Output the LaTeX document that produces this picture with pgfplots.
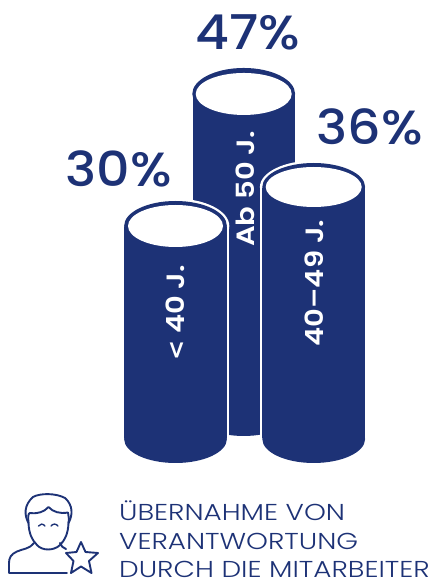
\documentclass[border=0pt]{standalone}
\usepackage{pgfplots}
\pgfplotsset{compat=1.18}
\usepackage{fontspec}
\setmainfont{Poppins}
\newfontfamily\pctfont{Poppins}[UprightFont=* Medium,FakeStretch=1.09]
\newfontfamily\capfont{Poppins}[UprightFont=* Light,FakeStretch=1.21]
\newfontfamily\tagfont{Poppins}[UprightFont=* SemiBold,FakeStretch=1.16]
\newfontfamily\symfont{DejaVu Sans Bold}
\definecolor{navy}{HTML}{1D3276}
% Ellipses are filled unit circles, stretched by the mark options
\pgfdeclareplotmark{capdisc}{\pgfpathcircle{\pgfpointorigin}{1pt}\pgfusepathqfill}
\pgfplotsset{cyl/.style 2 args={at={(0,0)},anchor=south west,scale only axis,width=433pt,height=579pt,
      hide axis,clip=false,xmin=0,xmax=433,ymin=#1,ymax=#2}}
% #1 x centre, #2 value, #3 ymin, #4 ymax, #5 halo width, #6 #7 inner radii, #8 top outer ry, #9 base ry
\newcommand{\cylinder}[9]{%
  \pgfmathsetlengthmacro{\barw}{102.8pt+#5pt}%
  % the white halo goes in an axis of its own, so that the body covers its lower half
  \begin{axis}[cyl={#3}{#4}]
    \addplot[only marks,mark=capdisc,mark options={xscale=51.4+#5,yscale=#8+#5,fill=white}] coordinates {(#1,#2)};
  \end{axis}
  \begin{axis}[cyl={#3}{#4}]
    \addplot[ybar,bar width=\barw,bar shift=0pt,fill=navy,draw=white,line width=#5pt] coordinates {(#1,#2)};
    \addplot[only marks,mark=capdisc,mark options={xscale=51.4,yscale=#9,fill=navy}] coordinates {(#1,0)};
    \addplot[only marks,mark=capdisc,mark options={xscale=51.4,yscale=#8,fill=navy}] coordinates {(#1,#2)};
    \addplot[only marks,mark=capdisc,mark options={xscale=#6,yscale=#7,fill=white}] coordinates {(#1,#2)};
  \end{axis}}
\begin{document}
\begin{tikzpicture}
  \path[use as bounding box] (0,0) rectangle (433pt,579pt);
  \cylinder{243.7}{47}{-24.908}{60.934}{0}{48}{21}{26}{25}
  \cylinder{175.5}{30}{-19.718}{61.831}{2.4}{47.5}{21}{25}{24}
  \cylinder{313.7}{36}{-20}{62.714}{2.4}{48}{20}{24}{24}
  \begin{scope}[x=1pt,y=-1pt,yshift=579pt,navy]
    % value labels
    \node[anchor=base,font=\pctfont\fontsize{48}{48}\selectfont] at (247.5,50) {47\%};
    \node[anchor=base,font=\pctfont\fontsize{48}{48}\selectfont] at (369.5,145) {36\%};
    \node[anchor=base,font=\pctfont\fontsize{48}{48}\selectfont] at (119,187) {30\%};
    % group names on the cylinders
    \node[rotate=90,white,font=\tagfont\fontsize{25}{25}\selectfont] at (245,189) {Ab 50 J.};
    \node[rotate=90,white,font=\tagfont\fontsize{25}{25}\selectfont] at (175,313) {{\symfont\fontsize{24}{24}\selectfont <} 40 J.};
    \node[rotate=90,white,font=\tagfont\fontsize{25}{25}\selectfont] at (314,283) {40–49 J.};
    % caption
    \node[anchor=base west,inner sep=0pt,font=\capfont\fontsize{23}{23}\selectfont] at (119,521) {ÜBERNAHME VON};
    \node[anchor=base west,inner sep=0pt,font=\capfont\fontsize{23}{23}\selectfont] at (119,550) {VERANTWORTUNG};
    \node[anchor=base west,inner sep=0pt,font=\capfont\fontsize{23}{23}\selectfont] at (119,577.5) {DURCH DIE MITARBEITER};
    % person with star
    \begin{scope}[line width=1.9pt,line join=round,line cap=round]
      \draw (28.5,523) .. controls (24,515) and (24,505) .. (33,497)
            .. controls (40,493) and (56,493) .. (65,498)
            .. controls (73,505) and (73,515) .. (68.5,523);
      \draw (28.5,523) .. controls (28,517) and (28,513) .. (30,513)
            .. controls (38,514) and (44,512) .. (48.5,507)
            .. controls (53,512) and (60,514) .. (68,512.5)
            .. controls (69,516) and (69,520) .. (68.5,523);
      \draw (28.5,523) .. controls (29,534) and (32,540) .. (37,545)
            .. controls (42,551) and (54,551) .. (60,545)
            .. controls (65,540) and (68,534) .. (68.5,523);
      \draw[line width=1.4pt] (38.5,526) .. controls (40,523.5) and (43,523.5) .. (45,526);
      \draw[line width=1.4pt] (51,526) .. controls (53,523.5) and (56,523.5) .. (58,526);
      \draw (34,543) .. controls (30,549) and (22,549) .. (17,551.5)
            .. controls (11,554) and (9,558) .. (9,563)
            -- (9,573) -- (67,573);
      \draw (60,543) .. controls (61,546) and (63,548) .. (66,549);
      \draw (81,542) -- (85.5,552) -- (98,553) -- (89,561) -- (91.5,573)
            -- (81,566.5) -- (71,573) -- (73.5,561) -- (66,553) -- (76.5,552) -- cycle;
    \end{scope}
  \end{scope}
\end{tikzpicture}
\end{document}
